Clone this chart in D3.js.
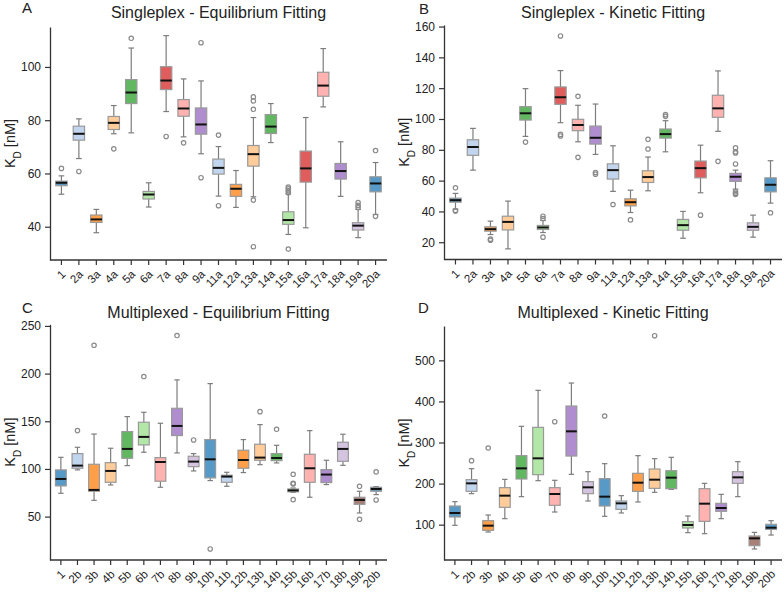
<!DOCTYPE html>
<html>
<head>
<meta charset="utf-8">
<script src="https://cdn.jsdelivr.net/npm/d3@7"></script>
<style>
  body { margin: 0; background: #fff; }
  svg { font-family: "Liberation Sans", Arial, sans-serif; }
</style>
</head>
<body>
<svg id="chart" width="784" height="592"></svg>
<script>
// tab20-like palette, used by name below
const pal = {
  blue: "#1f77b4", lblue: "#aec7e8", orange: "#ff7f0e", lorange: "#ffbb78",
  green: "#2ca02c", lgreen: "#98df8a", red: "#d62728", pink: "#ff9896",
  purple: "#9467bd", lpurple: "#c5b0d5", brown: "#8c564b"
};

// ---- Singleplex labels / colours (A and B)
const labelsSingle = ["1","2a","3a","4a","5a","6a","7a","8a","9a","11a","12a","13a","14a","15a","16a","17a","18a","19a","20a"];
const colorsSingle = ["blue","lblue","orange","lorange","green","lgreen","red","pink","purple",
  "lblue","orange","lorange","green","lgreen","red","pink","purple","lpurple","blue"];

// ---- Multiplexed labels / colours (C and D)
const labelsMulti = ["1","2b","3b","4b","5b","6b","7b","8b","9b","10b","11b","12b","13b","14b","15b","16b","17b","18b","19b","20b"];
const colorsMulti = ["blue","lblue","orange","lorange","green","lgreen","pink","purple","lpurple",
  "blue","lblue","orange","lorange","green","lgreen","pink","purple","lpurple","brown","blue"];

// box stats: [whisker low, q1, median, q3, whisker high]
const statsA = [
  [52.2,55.4,56.5,57.1,59.1],[65.6,72.5,74.9,77.75,80.5],[37.75,41.6,42.75,44.4,46.5],
  [74.9,76.5,79,81.4,85.5],[75.25,86.25,90.4,95.25,107.1],[47.4,50.4,52.1,53.25,56.5],
  [83.25,91.5,94.9,100.1,111.75],[73.75,81.5,84.4,87.75,95.5],[67.4,74.75,78.4,84.6,94.75],
  [51.5,59.75,62.1,65.4,70.1],[47.25,51.4,54.25,55.9,61.1],[51.25,62.75,67.25,70.5,81],
  [71.6,75,77.6,82.1,86.25],[37.1,40.9,42.5,45.6,52.3],[39.6,56.75,61.9,68.4,81],
  [85,89,93,98,106.9],[51.4,57.9,60.9,63.75,71.9],[35.9,38.75,40.4,41.5,46.5],
  [44.6,53.1,56.25,58.75,64.1]
];
const outliersA = [
  [61.9],[60.75],[],[69.25],[110.75],[],[73.9],[71.5],[109.1,58.4],
  [74.4,47.9],[],[88.75,87.25,84.1,50,32.5],[],[54.9,54.2,53.5,52.8,31.6],[],
  [],[],[49.1,48,47.2],[68.6,43.9]
];

const statsB = [
  [41.5,46,47.3,48.6,51.7],[66.8,76.4,81.8,86.5,93.9],[25,27.2,28.5,30,33.7],
  [15.7,28,33.2,36.9,46.7],[88.7,99.3,103.7,108,119.7],[26.3,28.3,29.6,30.9,34.1],
  [97.6,109.5,114.1,120.8,131.4],[85.2,92.4,96.1,99.8,108.9],[77,83.7,87.8,95.4,109.7],
  [53,61,66.8,70.9,82.6],[39.3,43.6,46,48.2,53.8],[53.4,58.8,62.3,66.4,75.3],
  [78.7,87.6,90.2,93.5,98.9],[22.6,27.8,31.1,34.8,40],[52.1,61.8,68.1,72.7,83],
  [92,101.1,106.9,115.4,131.2],[54.5,59.5,62.5,64.7,66.8],[23.3,27.8,30,32.6,37.6],
  [45.4,52.7,57.3,61.8,72.9]
];
const outliersB = [
  [55.3,40.6,40.2],[],[22,21.3],[],[85],[36.9,35.4,23.3],[153.9,90,89],[114.7,75.1],[65.3,64.2],
  [44.5],[34.5],[86.8,80.5],[102.8,101.7],[],[37.6],[72.5],
  [81.3,78.7,78,70.8,52.7,51.7,51],[],[39.1]
];

const statsC = [
  [74.5,82.2,89.5,99,112.2],[99,100.7,103.5,116.1,122.7],[67.1,76.6,78,104.9,136.6],
  [83.2,86,97.9,106.6,121.7],[103.5,111.2,121,139.2,154.9],[117.5,125.2,133.6,149,159.4],
  [80.8,87.1,107.3,111.9,147.9],[116.8,135,145.1,163.6,193.4],[97.9,102.4,107.7,113.3,116.1],
  [87.8,90.6,110.1,130.8,189.5],[81.8,86,92,93.4,96.5],[96.2,100.7,109.4,119.6,130.8],
  [104.5,109.1,111.9,125.9,146.5],[106.3,108.7,111.5,116.1,124.8],[75.5,76,77.5,79,80],
  [70.3,86,100.7,115.4,140.2],[83.6,85.7,94.1,99.3,109.1],[103.8,108,121,128,136.4],
  [53.8,62.9,67.5,70.3,76.6],[73.1,76.6,79,80.8,81.5]
];
const outliersC = [
  [],[140.2],[229.7],[],[],[196.9],[],[239.9],[130.4],[16.1],[],[],[160.1],[141.6],
  [94.4,85,84.3,67.8],[],[],[],[81.8,47.2],[96.9,67.5]
];

const statsD = [
  [98.4,118.7,128.4,145.4,156],[175.5,181.1,200.6,209.5,236.3],[82.1,86.2,97.6,109.7,123.5],
  [114.6,142.2,170.6,190.1,210.3],[168.2,211.2,237.1,268,339.4],[207.1,221.7,261.5,336.9,427],
  [130.8,147.1,174.7,190.1,208],[222.5,267.1,327.2,388.8,444.8],[157.6,175.5,190.9,204.7,229],
  [120.3,145.4,168.2,212,248.5],[128.4,137.3,151.9,157.6,170.6],[155.2,181.1,202.2,225,268],
  [178.7,188.4,209.5,235.5,260.6],[186,187.6,214.4,231.4,263.9],[80.5,91.9,99.2,107.3,121.1],
  [78.1,108.1,151.1,187.6,200.6],[114.6,132.5,140.6,151.9,173.8],[168.2,200.6,215.2,229,253.3],
  [40.8,48.9,66.7,72.4,81.3],[74.8,88.6,92.7,100.8,109.7]
];
const outliersD = [
  [],[255.8],[286.6],[],[],[],[350.7],[],[],[364.5],[],[],[560],[],[],[],[],[],[],[]
];

const ticksA = [40,60,80,100];
const ticksB = [20,40,60,80,100,120,140,160];
const ticksC = [50,100,150,200,250];
const ticksD = [100,200,300,400,500];

const svg = d3.select("#chart");

function drawPanel(p) {
  const g = svg.append("g");

  const x = d3.scaleBand()
    .domain(p.labels)
    .range([p.left, p.right])
    .paddingInner(0.35)
    .paddingOuter(0.33);
  const bw = x.bandwidth();
  const cx = d => x(d) + bw / 2;

  const y = d3.scaleLinear()
    .domain(p.domain)
    .range([p.bottom, p.top]);

  // boxes
  p.labels.forEach((lab, i) => {
    const [lo, q1, med, q3, hi] = p.stats[i];
    const c = cx(lab);
    const bg = g.append("g");
    // whiskers
    bg.append("line").attr("x1", c).attr("x2", c).attr("y1", y(hi)).attr("y2", y(q3))
      .attr("stroke", "#7d7d7d").attr("stroke-width", 1.2);
    bg.append("line").attr("x1", c).attr("x2", c).attr("y1", y(q1)).attr("y2", y(lo))
      .attr("stroke", "#7d7d7d").attr("stroke-width", 1.2);
    // caps
    [hi, lo].forEach(v => {
      bg.append("line").attr("x1", c - bw / 4).attr("x2", c + bw / 4)
        .attr("y1", y(v)).attr("y2", y(v))
        .attr("stroke", "#7d7d7d").attr("stroke-width", 1.2);
    });
    // box
    bg.append("rect")
      .attr("x", x(lab)).attr("width", bw)
      .attr("y", y(q3)).attr("height", Math.max(0.5, y(q1) - y(q3)))
      .attr("fill", pal[p.colors[i]]).attr("fill-opacity", 0.75)
      .attr("stroke", "#999").attr("stroke-width", 1.2);
    // median
    bg.append("line").attr("x1", x(lab)).attr("x2", x(lab) + bw)
      .attr("y1", y(med)).attr("y2", y(med))
      .attr("stroke", "#111").attr("stroke-width", 2);
    // outliers
    bg.selectAll("circle").data(p.outliers[i]).enter().append("circle")
      .attr("cx", c).attr("cy", d => y(d)).attr("r", 2.2)
      .attr("fill", "none").attr("stroke", "#8a8a8a").attr("stroke-width", 1.2);
  });

  // y axis
  const ya = g.append("g")
    .attr("transform", `translate(${p.left},0)`)
    .call(d3.axisLeft(y).tickValues(p.ticks).tickSize(5).tickPadding(4).tickSizeOuter(0));
  ya.selectAll("text").style("font-size", "12px").attr("fill", "#222");

  // x axis
  const xa = g.append("g")
    .attr("transform", `translate(0,${p.bottom})`)
    .call(d3.axisBottom(x).tickSize(5).tickSizeOuter(0));
  xa.selectAll("text")
    .style("font-size", "11.5px").attr("fill", "#222")
    .attr("text-anchor", "end")
    .attr("y", 0).attr("dy", "0.35em")
    .attr("transform", "translate(2,12) rotate(-45)");

  [ya, xa].forEach(a => {
    a.select(".domain").attr("stroke", "#333").attr("stroke-width", 1.3);
    a.selectAll(".tick line").attr("stroke", "#333").attr("stroke-width", 1.2);
  });
  // axis line starts exactly at the left spine
  xa.select(".domain").attr("d", `M${p.left},0H${p.right}`);

  // y label
  const yl = g.append("text")
    .attr("transform", `translate(${p.left - 35},${(p.top + p.bottom) / 2}) rotate(-90)`)
    .attr("text-anchor", "middle")
    .style("font-size", "14.5px").attr("fill", "#222");
  yl.append("tspan").text("K");
  yl.append("tspan").text("D").attr("baseline-shift", "sub").style("font-size", "10px");
  yl.append("tspan").text(" [nM]");

  // title
  g.append("text")
    .attr("x", (p.left + p.right) / 2).attr("y", p.titleY)
    .attr("text-anchor", "middle")
    .style("font-size", "16px").attr("fill", "#222")
    .text(p.title);

  // panel letter
  g.append("text")
    .attr("x", p.letterX).attr("y", p.letterY)
    .style("font-size", "15px").attr("fill", "#222")
    .text(p.letter);
}

drawPanel({ labels: labelsSingle, colors: colorsSingle, stats: statsA, outliers: outliersA,
  ticks: ticksA, domain: [27.5, 115], left: 50, right: 387, top: 27, bottom: 260,
  title: "Singleplex - Equilibrium Fitting", titleY: 18, letter: "A", letterX: 22, letterY: 13 });

drawPanel({ labels: labelsSingle, colors: colorsSingle, stats: statsB, outliers: outliersB,
  ticks: ticksB, domain: [8.8, 161], left: 444, right: 782, top: 25, bottom: 259.5,
  title: "Singleplex - Kinetic Fitting", titleY: 18, letter: "B", letterX: 419, letterY: 14 });

drawPanel({ labels: labelsMulti, colors: colorsMulti, stats: statsC, outliers: outliersC,
  ticks: ticksC, domain: [4.5, 251.7], left: 50, right: 387, top: 324.3, bottom: 560,
  title: "Multiplexed - Equilibrium Fitting", titleY: 318, letter: "C", letterX: 22, letterY: 313 });

drawPanel({ labels: labelsMulti, colors: colorsMulti, stats: statsD, outliers: outliersD,
  ticks: ticksD, domain: [14, 583.6], left: 444, right: 782, top: 326, bottom: 560,
  title: "Multiplexed - Kinetic Fitting", titleY: 318, letter: "D", letterX: 418, letterY: 313 });
</script>
</body>
</html>
